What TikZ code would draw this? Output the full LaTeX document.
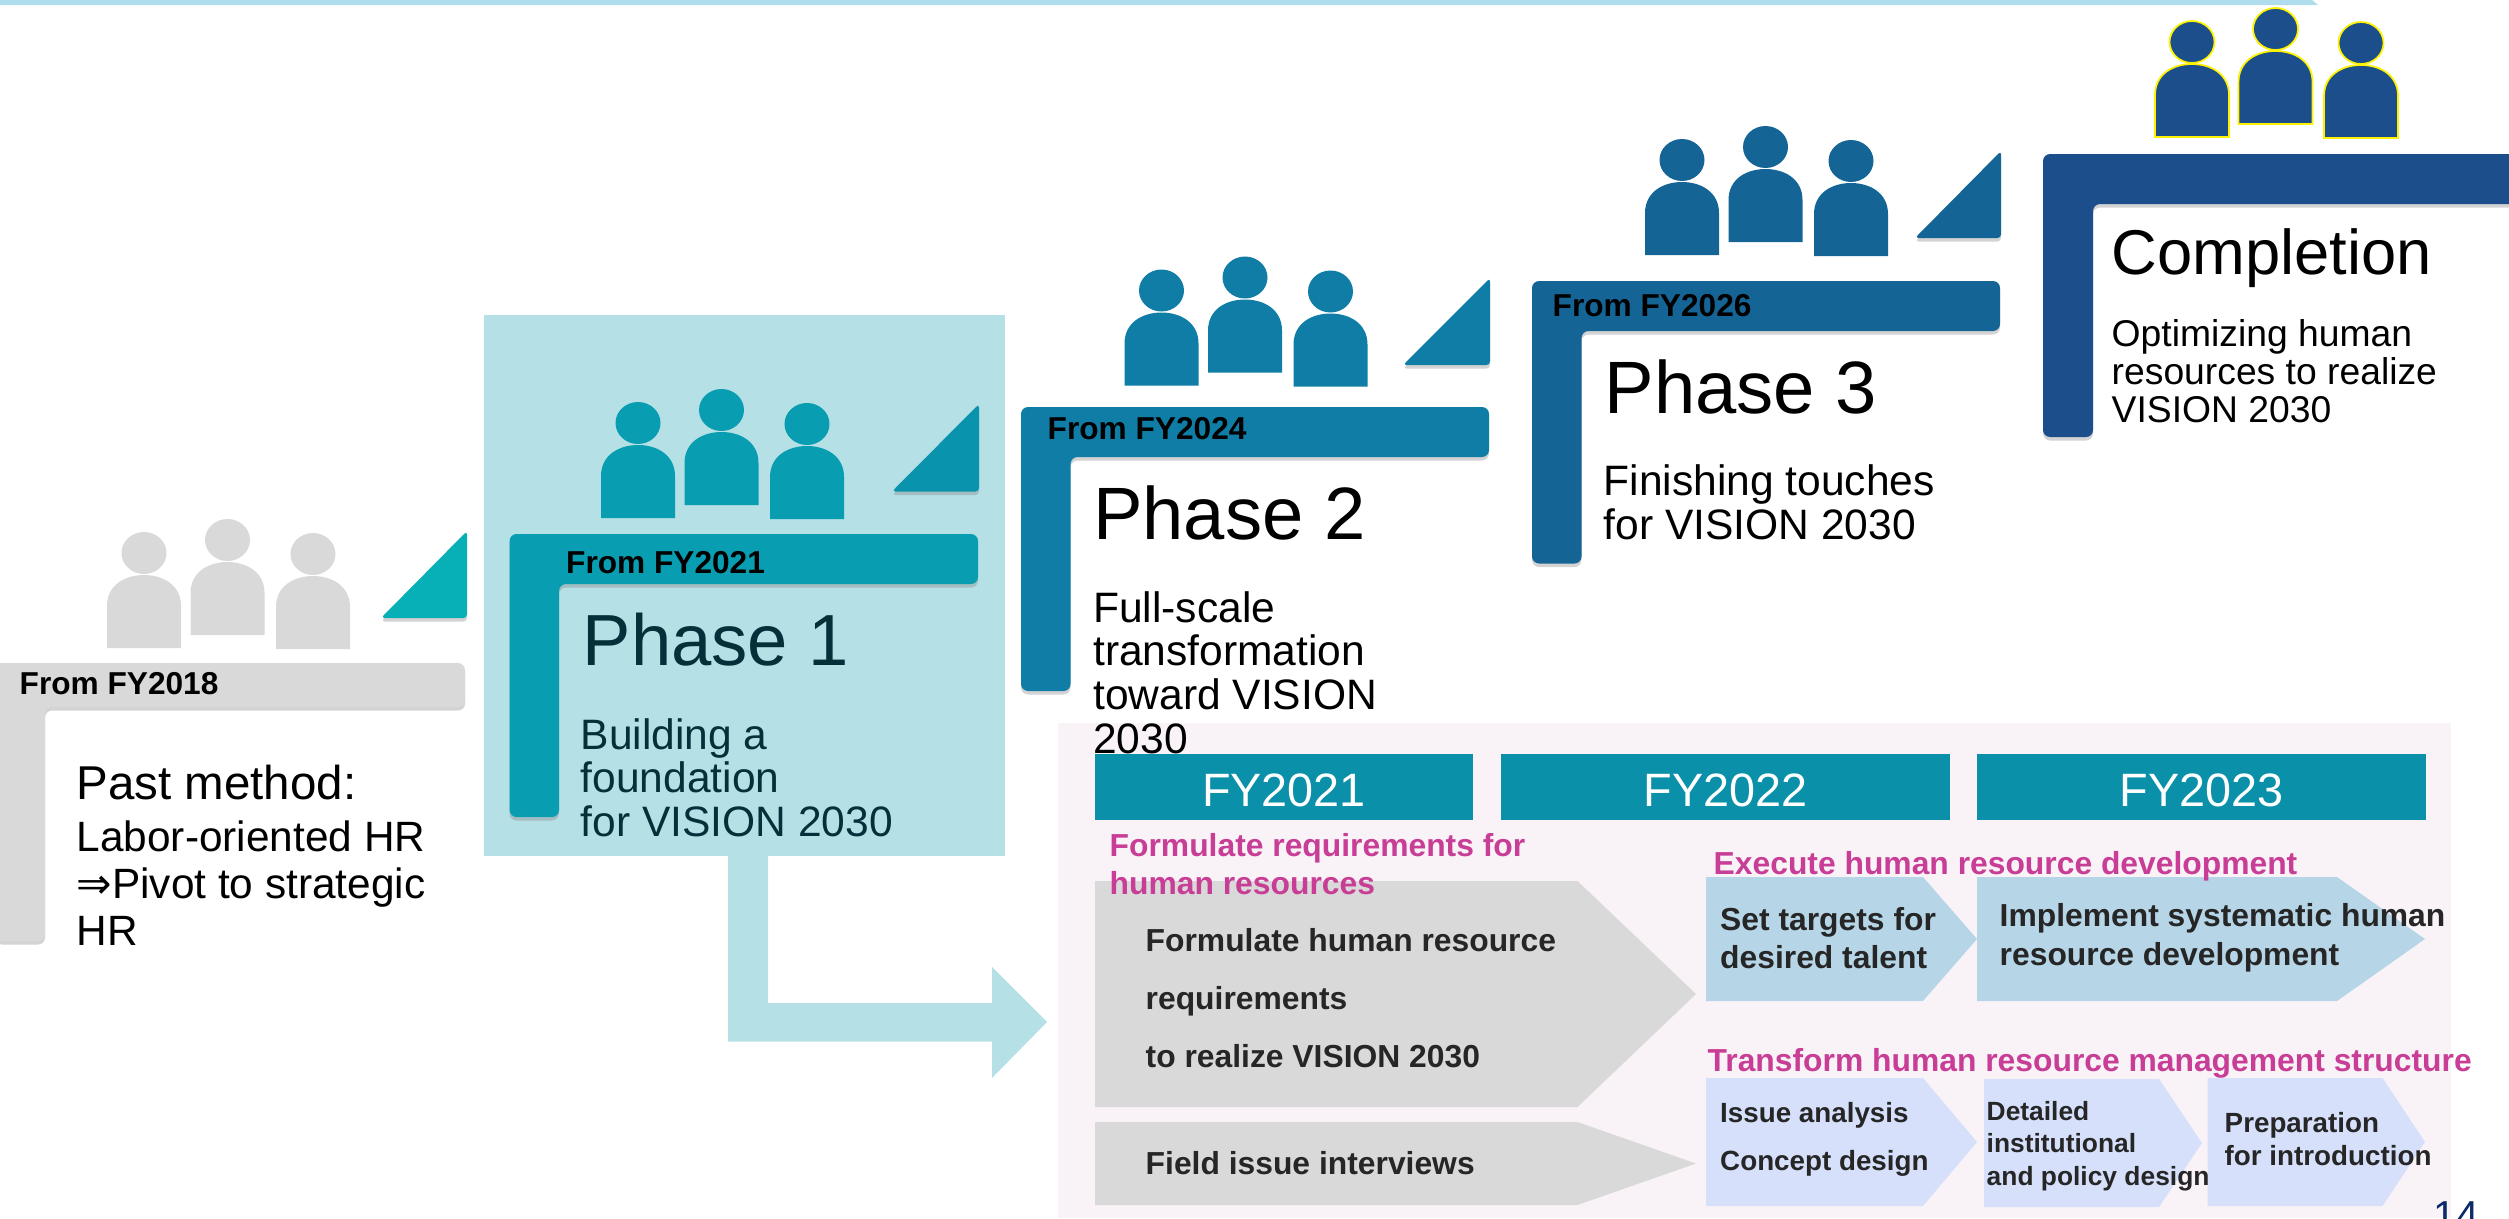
\documentclass[tikz,border=0pt]{standalone}
\usepackage{fontspec}
\setmainfont{Liberation Sans}
\newfontfamily\symfont{DejaVu Sans}
\usetikzlibrary{shadows}
\definecolor{barsky}{HTML}{B0DDEE}
\definecolor{stepgrey}{HTML}{D9D9D9}
\definecolor{stepone}{HTML}{089DB0}
\definecolor{steptwo}{HTML}{0F7DA5}
\definecolor{stepthree}{HTML}{156496}
\definecolor{stepfour}{HTML}{1B4E8A}
\definecolor{wedgeteal}{HTML}{07AFB6}
\definecolor{wedgeone}{HTML}{0A93AC}
\definecolor{backblue}{HTML}{B5E0E6}
\definecolor{panelpink}{HTML}{F9F3F8}
\definecolor{fyteal}{HTML}{0B90AA}
\definecolor{headpink}{HTML}{C83E96}
\definecolor{arrowblue}{HTML}{B6D6E8}
\definecolor{arrowlav}{HTML}{D6E0FB}
\definecolor{darktext}{HTML}{262626}
\definecolor{phaseink}{HTML}{04303A}
\definecolor{pagenavy}{HTML}{0B2A6B}
\tikzset{
  person/.pic={
    \path[pic actions] (-37,0) -- (-37,-42) .. controls (-37,-63) and (-19,-73) .. (0,-73)
      .. controls (19,-73) and (37,-63) .. (37,-42) -- (37,0) -- cycle;
    \path[pic actions] (0,-95) ellipse[x radius=22.5, y radius=21];
  },
  stepshape/.style={rounded corners=2, drop shadow={shadow xshift=0pt, shadow yshift=-1pt, opacity=0.35}},
  wedgeshape/.style={rounded corners=1, drop shadow={shadow xshift=0pt, shadow yshift=-1pt, opacity=0.35}},
  lbl/.style={inner sep=0pt, anchor=west, align=left},
  fromlabel/.style={lbl, font=\fontsize{9}{11}\selectfont\bfseries},
  phasetitle/.style={lbl, font=\fontsize{21.1}{25}\selectfont},
  phasetext/.style={lbl, font=\fontsize{12.1}{12.4}\selectfont},
  fylabel/.style={inner sep=0pt, text=white, yshift=-0.85pt, font=\fontsize{13.3}{15}\selectfont},
  pinkhead/.style={lbl, text=headpink, font=\fontsize{9.05}{10.8}\selectfont\bfseries},
  boxtext/.style={lbl, text=darktext, font=\fontsize{9.05}{11}\selectfont\bfseries},
  smalltext/.style={lbl, text=darktext, font=\fontsize{7.9}{9.6}\selectfont\bfseries},
}
\begin{document}
\begin{tikzpicture}[x=0.01cm, y=-0.01cm]
  \useasboundingbox (0,0) rectangle (2509,1218);
  \fill[barsky] (0,0) -- (2312,0) -- (2318,5) -- (0,5) -- cycle;

  % backing of phase 1 and its arrow
  \fill[backblue] (484,315) rectangle (1005,856);
  \fill[backblue] (728,856) -- (768,856) -- (768,1003) -- (992,1003) -- (992,967) -- (1047,1022) -- (992,1078) -- (992,1041.5) -- (728,1041.5) -- cycle;

  % steps
  \fill[stepgrey, stepshape] (-5,663) -- (465,663) -- (465,707) -- (45,707) -- (45,941) -- (-5,941) -- cycle;
  \fill[stepone, stepshape] (509.5,534) -- (978,534) -- (978,584) -- (559,584) -- (559,817) -- (509.5,817) -- cycle;
  \fill[steptwo, stepshape] (1021,407) -- (1489,407) -- (1489,457) -- (1070.5,457) -- (1070.5,691) -- (1021,691) -- cycle;
  \fill[stepthree, stepshape] (1532,281) -- (2000,281) -- (2000,331) -- (1581.5,331) -- (1581.5,563.5) -- (1532,563.5) -- cycle;
  \fill[stepfour, stepshape] (2043,154) -- (2520,154) -- (2520,204) -- (2093,204) -- (2093,437) -- (2043,437) -- cycle;

  % wedges
  \fill[wedgeteal, wedgeshape] (467,531) -- (467,618) -- (381,618) -- cycle;
  \fill[wedgeone, wedgeshape] (979,404) -- (979,491.5) -- (892,491.5) -- cycle;
  \fill[steptwo, wedgeshape] (1490,278) -- (1490,365) -- (1403,365) -- cycle;
  \fill[stepthree, wedgeshape] (2001,151) -- (2001,238) -- (1915,238) -- cycle;

  % people
  \foreach \gx/\gy/\gcol/\gline in {144/648/stepgrey/none, 638/518/stepone/none, 1161.5/385.5/steptwo/none, 1682/255/stepthree/none, 2192/137/stepfour/yellow} {
    \foreach \dx/\dy in {0/0, 83.5/-13, 169/1} {
      \pic[fill=\gcol, draw=\gline, line width=0.5pt] at (\gx+\dx,\gy+\dy) {person};
    }
  }

  \node[fromlabel] (fromeighteen) at (19,684) {From FY2018};
  \node[fromlabel] (fromtwentyone) at (565.5,563) {From FY2021};
  \node[fromlabel] (fromtwentyfour) at (1047,429) {From FY2024};
  \node[fromlabel] (fromtwentysix) at (1552,306) {From FY2026};

  \node[lbl, font=\fontsize{13.5}{16}\selectfont] (pastmethod) at (76,783) {Past method:};
  \node[lbl, font=\fontsize{12.05}{13.4}\selectfont] (pasttext) at (76,883) {Labor-oriented HR\\{\symfont⇒}Pivot to strategic\\HR};

  \node[phasetitle, text=phaseink, font=\fontsize{20.6}{25}\selectfont] (phaseone) at (582,640) {Phase 1};
  \node[phasetext, text=phaseink] (phaseonetext) at (580,777.5) {Building a\\foundation\\for VISION 2030};
  \node[phasetitle] (phasetwo) at (1092.5,513) {Phase 2};
  \node[phasetitle] (phasethree) at (1604,387) {Phase 3};
  \node[phasetext] (phasethreetext) at (1603,502) {Finishing touches\\for VISION 2030};
  \node[lbl, font=\fontsize{18}{21}\selectfont] (completion) at (2111,258) {Completion};
  \node[lbl, font=\fontsize{10.6}{10.8}\selectfont] (completiontext) at (2111,371) {Optimizing human\\resources to realize\\VISION 2030};

  % plan panel
  \fill[panelpink] (1058,723) rectangle (2451,1218);
  \node[phasetext] (phasetwotext) at (1092.5,672.5) {Full-scale\\transformation\\toward VISION\\2030};

  \fill[fyteal] (1095,754) rectangle (1473,820) node[midway, fylabel] (fyone) {FY2021};
  \fill[fyteal] (1501,754) rectangle (1950,820) node[midway, fylabel] (fytwo) {FY2022};
  \fill[fyteal] (1977,754) rectangle (2426,820) node[midway, fylabel] (fythree) {FY2023};

  \fill[stepgrey] (1095,881) -- (1577.5,881) -- (1696,994) -- (1577.5,1107) -- (1095,1107) -- cycle;
  \fill[stepgrey] (1095,1122) -- (1577.5,1122) -- (1696,1163.5) -- (1577.5,1205) -- (1095,1205) -- cycle;
  \fill[arrowblue] (1706,877) -- (1923,877) -- (1977,939) -- (1923,1001) -- (1706,1001) -- cycle;
  \fill[arrowblue] (1977,877) -- (2337,877) -- (2425,939) -- (2337,1001) -- (1977,1001) -- cycle;
  \fill[arrowlav] (1706,1078) -- (1923,1078) -- (1977,1142) -- (1923,1206) -- (1706,1206) -- cycle;
  \fill[arrowlav] (1984,1079) -- (2159,1079) -- (2202,1143) -- (2159,1207) -- (1984,1207) -- cycle;
  \fill[arrowlav] (2207.5,1078) -- (2382.5,1078) -- (2425,1142) -- (2382.5,1206) -- (2207.5,1206) -- cycle;

  \node[pinkhead] (formulatehead) at (1109,864) {Formulate requirements for\\human resources};
  \node[pinkhead] (executehead) at (1713,866) {Execute human resource development};
  \node[pinkhead] (transformhead) at (1707,1063) {Transform human resource management structure};

  \node[boxtext, font=\fontsize{9.05}{16.5}\selectfont\bfseries] (formulatebox) at (1145,998) {Formulate human resource\\requirements\\to realize VISION 2030};
  \node[boxtext] (fieldbox) at (1145,1163) {Field issue interviews};
  \node[boxtext] (targetbox) at (1719.5,938) {Set targets for\\desired talent};
  \node[boxtext] (implementbox) at (1999,938) {Implement systematic human\\resource development};
  \node[smalltext, font=\fontsize{7.9}{13.6}\selectfont\bfseries] (issuebox) at (1719.5,1139) {Issue analysis\\Concept design};
  \node[smalltext, font=\fontsize{7.5}{9.25}\selectfont\bfseries] (detailbox) at (1986,1146) {Detailed\\institutional\\and policy design};
  \node[smalltext] (prepbox) at (2224,1139) {Preparation\\for introduction};

  \node[inner sep=0pt, anchor=base west, text=pagenavy, font=\fontsize{11.5}{13}\selectfont] (pagenum) at (2433,1229) {14};
\end{tikzpicture}
\end{document}
